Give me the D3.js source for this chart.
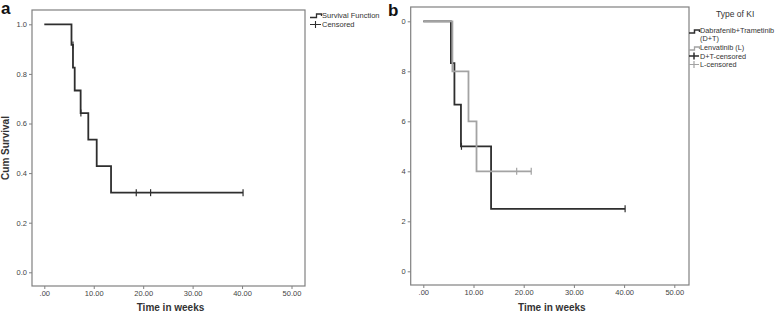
<!DOCTYPE html>
<html>
<head>
<meta charset="UTF-8">
<script src="https://d3js.org/d3.v7.min.js"></script>
<style>
  body { margin: 0; background: #fff; font-family: "Liberation Sans", Arial, sans-serif; }
</style>
</head>
<body>
<svg width="778" height="316"></svg>
<script>
// panel a: overall survival steps [week, survival after drop]
const stepsA = [[0, 1], [5.5, 0.917], [5.8, 0.825], [6.15, 0.733], [7.35, 0.642], [8.9, 0.535], [10.6, 0.428], [13.5, 0.321]];
const censA = [[5.8, 0.917], [7.4, 0.642], [18.6, 0.321], [21.5, 0.321], [40.2, 0.321]];

// panel b: by type of KI
const stepsDT = [[0, 1], [5.5, 0.833], [6.2, 0.667], [7.5, 0.5], [13.5, 0.25]];
const censDT = [[7.6, 0.5], [40.2, 0.25]];
const stepsL = [[0, 1], [5.8, 0.8], [9.0, 0.6], [10.6, 0.4]];
const censL = [[18.6, 0.4], [21.5, 0.4]];

const xTicks = [0, 10, 20, 30, 40, 50];
const xTickLabels = [".00", "10.00", "20.00", "30.00", "40.00", "50.00"];
const yTicks = [0, 0.2, 0.4, 0.6, 0.8, 1.0];
const yLabelsA = ["0.0", "0.2", "0.4", "0.6", "0.8", "1.0"];
const yLabelsB = ["0", "2", "4", "6", "8", "0"];

const dark = "#2e2e2e", grey = "#a3a3a3", frame = "#808080";
const svg = d3.select("svg");

function panel(opt) {
  const x = d3.scaleLinear().domain([0, 50]).range(opt.xr);
  const y = d3.scaleLinear().domain([0, 1]).range(opt.yr);
  const g = svg.append("g");

  g.append("rect")
    .attr("x", opt.box[0]).attr("y", opt.box[1])
    .attr("width", opt.box[2] - opt.box[0]).attr("height", opt.box[3] - opt.box[1])
    .attr("fill", "none").attr("stroke", frame).attr("stroke-width", 1.2);

  const xa = g.append("g").attr("transform", `translate(0,${opt.box[3]})`)
    .call(d3.axisBottom(x).tickValues(xTicks).tickSize(3).tickPadding(2)
      .tickFormat((d, i) => xTickLabels[i]));
  const ya = g.append("g").attr("transform", `translate(${opt.box[0]},0)`)
    .call(d3.axisLeft(y).tickValues(yTicks).tickSize(3).tickPadding(2)
      .tickFormat((d, i) => opt.yLabels[i]));
  [xa, ya].forEach(a => {
    a.select(".domain").remove();
    a.selectAll(".tick line").attr("stroke", frame);
    a.selectAll(".tick text").attr("fill", "#444").attr("font-size", 7.5)
      .attr("font-family", "Liberation Sans, Arial, sans-serif");
  });

  const line = d3.line().x(d => x(d[0])).y(d => y(d[1])).curve(d3.curveStepAfter);
  opt.series.forEach(s => {
    const lastStep = s.steps[s.steps.length - 1];
    const lastCens = s.cens.length ? s.cens[s.cens.length - 1][0] : lastStep[0];
    const pts = s.steps.concat([[Math.max(lastCens, lastStep[0]), lastStep[1]]]);
    g.append("path").attr("d", line(pts))
      .attr("fill", "none").attr("stroke", s.color).attr("stroke-width", 1.8);
    g.selectAll(null).data(s.cens).enter().append("line")
      .attr("x1", d => x(d[0])).attr("x2", d => x(d[0]))
      .attr("y1", d => y(d[1]) - 3.5).attr("y2", d => y(d[1]) + 3.5)
      .attr("stroke", s.color).attr("stroke-width", 1.2);
  });

  g.append("text").attr("x", (opt.box[0] + opt.box[2]) / 2 + 2).attr("y", 311)
    .attr("text-anchor", "middle").attr("font-size", 10).attr("font-weight", "bold")
    .attr("fill", "#333").text("Time in weeks");
  g.append("text").attr("x", opt.label[0]).attr("y", opt.label[1])
    .attr("font-size", 17).attr("font-weight", "bold").attr("fill", "#111").text(opt.letter);
  return g;
}

const ga = panel({
  xr: [44.3, 291.5], yr: [272.3, 24.3], box: [32, 10, 305, 286],
  yLabels: yLabelsA, letter: "a", label: [1, 14],
  series: [{ steps: stepsA, cens: censA, color: dark }]
});
ga.append("text").attr("transform", "translate(9,148) rotate(-90)")
  .attr("text-anchor", "middle").attr("font-size", 10).attr("font-weight", "bold")
  .attr("fill", "#333").text("Cum Survival");

// legend a
const la = ga.append("g").attr("font-size", 7.5).attr("fill", "#333");
la.append("path").attr("d", "M310,17.5H316.5V14H321.5V16").attr("fill", "none")
  .attr("stroke", dark).attr("stroke-width", 1.3);
la.append("text").attr("x", 322).attr("y", 17.5).text("Survival Function");
la.append("path").attr("d", "M310,24.5H321M315.5,21V28").attr("stroke", dark).attr("stroke-width", 1.1);
la.append("text").attr("x", 322).attr("y", 27).text("Censored");

const gb = panel({
  xr: [423.3, 674.3], yr: [271.3, 21.3], box: [410.7, 7, 689, 285],
  yLabels: yLabelsB, letter: "b", label: [388, 16],
  series: [{ steps: stepsDT, cens: censDT, color: dark }, { steps: stepsL, cens: censL, color: grey }]
});

// legend b
const lb = gb.append("g").attr("font-size", 7.3).attr("fill", "#333");
lb.append("text").attr("x", 716).attr("y", 17).attr("font-size", 8.5).text("Type of KI");
lb.append("path").attr("d", "M689,33H694.5V30H699.5V32").attr("fill", "none")
  .attr("stroke", dark).attr("stroke-width", 1.5);
lb.append("text").attr("x", 700).attr("y", 33).text("Dabrafenib+Trametinib");
lb.append("text").attr("x", 700).attr("y", 41).text("(D+T)");
lb.append("path").attr("d", "M689,50H694.5V47H699.5V49").attr("fill", "none")
  .attr("stroke", grey).attr("stroke-width", 1.3);
lb.append("text").attr("x", 700).attr("y", 50).text("Lenvatinib (L)");
lb.append("path").attr("d", "M689,56H699M694,52.5V59.5").attr("stroke", dark).attr("stroke-width", 1.5);
lb.append("text").attr("x", 700).attr("y", 58.5).text("D+T-censored");
lb.append("path").attr("d", "M689,64.5H699M694,61V68").attr("stroke", grey).attr("stroke-width", 1.2);
lb.append("text").attr("x", 700).attr("y", 67).text("L-censored");
</script>
</body>
</html>
